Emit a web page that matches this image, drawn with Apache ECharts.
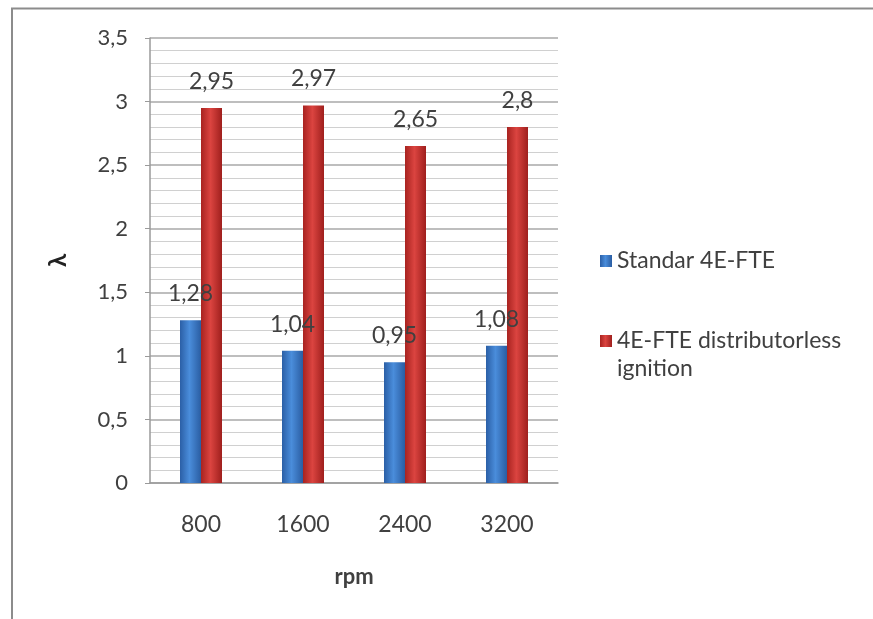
<!DOCTYPE html>
<html><head><meta charset="utf-8">
<script src="https://cdn.jsdelivr.net/npm/echarts@6/dist/echarts.min.js"></script>
<style>html,body{margin:0;padding:0;background:#fff}#c{width:873px;height:619px}</style>
</head><body><div id="c"></div>
<script>
const categories = ['800', '1600', '2400', '3200'];
const standardValues = [1.28, 1.04, 0.95, 1.08];
const distributorlessValues = [2.95, 2.97, 2.65, 2.8];
const seriesNames = ['Standar 4E-FTE', '4E-FTE distributorless ignition'];
const yTicks = [0, 0.5, 1, 1.5, 2, 2.5, 3, 3.5];

const FONT = 'Lato, "Liberation Sans", sans-serif';
const TXT = '#404040';
const comma = v => String(v).replace('.', ',');

const chart = echarts.init(document.getElementById('c'));
chart.setOption({
  animation: false,
  backgroundColor: '#fff',
  textStyle: { fontFamily: FONT },
  graphic: [
    { type: 'polyline', shape: { points: [[12, 619], [12, 8.5], [873, 8.5]] },
      style: { stroke: '#8c8c8c', lineWidth: 2, fill: null } }
  ],
  grid: { left: 150, right: 315, top: 38, bottom: 136 },
  legend: [
    { orient: 'vertical', left: 595, top: 242, itemWidth: 12, itemHeight: 12, icon: 'rect',
      data: [seriesNames[0]],
      textStyle: { fontSize: 23, lineHeight: 28, color: TXT, fontFamily: FONT } },
    { orient: 'vertical', left: 595, top: 294, itemWidth: 12, itemHeight: 12, icon: 'rect',
      data: [seriesNames[1]],
      formatter: n => '\n' + n.replace(' ignition', '\nignition'),
      textStyle: { fontSize: 23, lineHeight: 28, color: TXT, fontFamily: FONT } }
  ],
  xAxis: {
    type: 'category', data: categories,
    axisLine: { lineStyle: { color: '#9a9a9a', width: 1.5 } },
    axisTick: { show: false },
    axisLabel: { fontSize: 23, color: TXT, margin: 30, fontFamily: FONT },
    name: 'rpm', nameLocation: 'middle', nameGap: 83,
    nameTextStyle: { fontSize: 22, fontWeight: 'bold', color: TXT, fontFamily: FONT }
  },
  yAxis: {
    type: 'value', min: 0, max: 3.5, interval: 0.5,
    axisLine: { show: true, lineStyle: { color: '#9a9a9a', width: 1.5 } },
    axisTick: { show: true, length: 5, lineStyle: { color: '#9a9a9a' } },
    axisLabel: { fontSize: 22, color: TXT, margin: 22, fontFamily: FONT,
      formatter: v => comma(v) },
    splitLine: { show: true, lineStyle: { color: '#a8a8a8', width: 1.5 } },
    minorTick: { show: false, splitNumber: 5 },
    minorSplitLine: { show: true, lineStyle: { color: '#d0d0d0', width: 1 } },
    name: 'λ', nameLocation: 'middle', nameGap: 80,
    nameTextStyle: { fontSize: 24, fontWeight: 'bold', color: '#222', fontFamily: FONT }
  },
  series: [
    { name: seriesNames[0], type: 'bar', data: standardValues, barWidth: 21, barGap: '0%',
      itemStyle: { color: new echarts.graphic.LinearGradient(0, 0, 1, 0, [
        { offset: 0, color: '#2b5fa6' }, { offset: 0.45, color: '#4a8ddb' }, { offset: 1, color: '#2a5da2' }]) },
      label: { show: true, position: 'top', distance: 15, fontSize: 23, color: TXT, fontFamily: FONT,
        formatter: p => comma(p.value) } },
    { name: seriesNames[1], type: 'bar', data: distributorlessValues, barWidth: 21,
      itemStyle: { color: new echarts.graphic.LinearGradient(0, 0, 1, 0, [
        { offset: 0, color: '#a82320' }, { offset: 0.45, color: '#db4440' }, { offset: 1, color: '#9f1f1d' }]) },
      label: { show: true, position: 'top', distance: 15, fontSize: 23, color: TXT, fontFamily: FONT,
        formatter: p => comma(p.value) } }
  ]
});
</script></body></html>
